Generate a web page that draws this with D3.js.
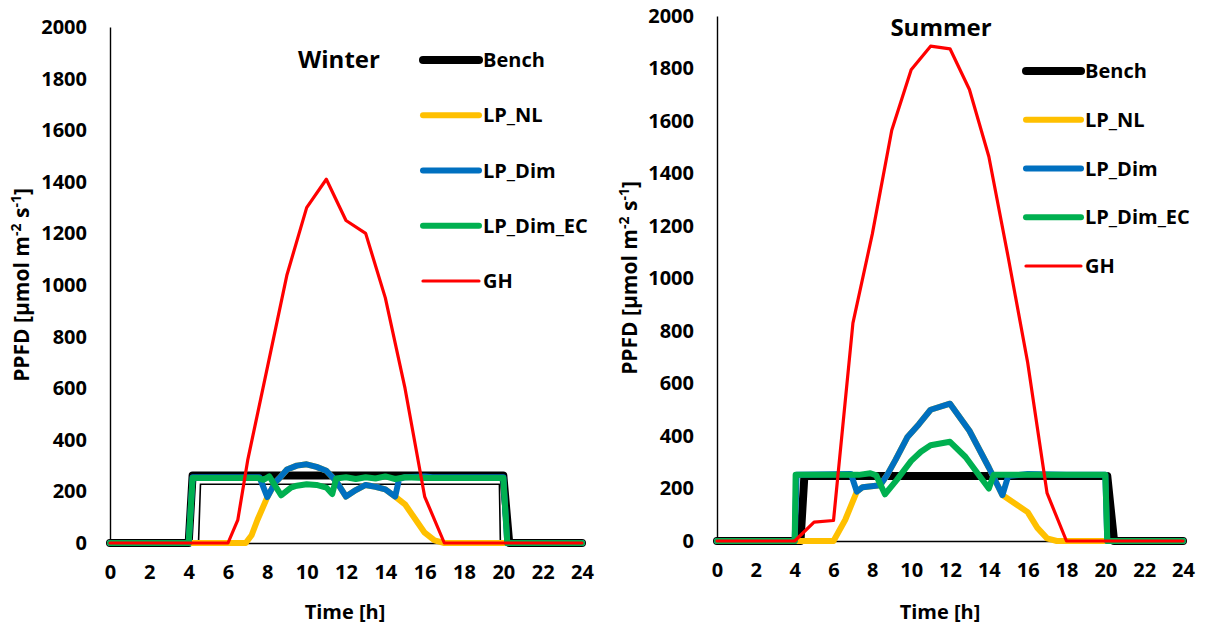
<!DOCTYPE html>
<html><head><meta charset="utf-8">
<script src="https://cdn.jsdelivr.net/npm/d3@7"></script>
<style>
body{margin:0;background:#fff}
text{font-family:"Open Sans",sans-serif;font-weight:700;fill:#000}
</style>
</head><body>
<svg id="c" width="1205" height="626"></svg>
<script>
// ---- data ----
const seriesNames = ["Bench", "LP_NL", "LP_Dim", "LP_Dim_EC", "GH"];
const seriesColors = ["#000000", "#FFC000", "#0070C0", "#00B050", "#FF0000"];
const xTicks = [0, 2, 4, 6, 8, 10, 12, 14, 16, 18, 20, 22, 24];
const yTicks = [0, 200, 400, 600, 800, 1000, 1200, 1400, 1600, 1800, 2000];

// Winter series: [hour, PPFD]
const winterBench = [[0,0],[4,0],[4.2,262],[20,262],[20.3,0],[24,0]];
const winterBenchInner = [[4.5,0],[4.6,228],[19.8,228],[19.85,0]];
const winterLPNL = [[0,0],[6.9,0],[7.2,30],[7.5,90],[8,178],[8.4,235],[8.6,250],[9,285],[9.5,300],[10,305],[10.5,295],[11,280],[11.5,240],[12,180],[12.5,205],[13,225],[13.5,218],[14,208],[14.5,180],[15,150],[15.5,95],[16,40],[16.5,10],[17,0],[24,0]];
const winterLPDim = [[0,0],[4,0],[4.2,255],[7.6,255],[8,178],[8.4,235],[8.6,250],[9,285],[9.5,300],[10,305],[10.5,295],[11,280],[11.5,240],[12,180],[12.5,205],[13,225],[13.5,218],[14,208],[14.5,180],[14.7,248],[15,255],[16,258],[16.4,255],[20,255],[20.2,0],[24,0]];
const winterLPDimEC = [[0,0],[4,0],[4.2,252],[7.5,252],[7.8,245],[8.1,258],[8.7,185],[9.2,215],[9.5,222],[10,228],[10.5,225],[11,215],[11.3,190],[11.5,250],[12,255],[12.5,248],[13,255],[13.5,250],[14,258],[14.5,248],[15,255],[16,252],[20,252],[20.2,0],[24,0]];
const winterGH = [[0,0],[6,0],[6.5,90],[7,320],[8,680],[9,1040],[10,1300],[11,1410],[12,1250],[13,1200],[14,950],[15,600],[16,180],[17,0],[24,0]];

// Summer series
const summerBench = [[0,0],[4.3,0],[4.5,248],[20.1,248],[20.45,0],[24,0]];
const summerLPNL = [[0,0],[6,0],[6.6,80],[7.2,188],[7.5,205],[8.4,212],[8.75,250],[9.2,310],[9.8,395],[10.4,445],[11,500],[12,523],[13,420],[14,280],[14.7,175],[15.4,140],[16,110],[16.5,50],[17,10],[17.5,0],[24,0]];
const summerLPDim = [[0,0],[4,0],[4.1,252],[6.9,255],[7.2,188],[7.5,205],[8.4,212],[8.75,250],[9.2,310],[9.8,395],[10.4,445],[11,500],[12,523],[13,420],[14,280],[14.7,175],[15,248],[16,255],[18,252],[20,252],[20.1,0],[24,0]];
const summerLPDimEC = [[0,0],[4,0],[4.05,252],[7.3,252],[7.9,258],[8.2,250],[8.65,178],[9.25,232],[10,305],[10.5,340],[11,365],[12,378],[12.8,320],[14,200],[14.25,252],[16,252],[20,252],[20.1,0],[24,0]];
const summerGH = [[0,0],[4,0],[5,72],[6,78],[7,830],[8,1170],[9,1565],[10,1795],[11,1885],[12,1875],[13,1720],[14,1465],[15,1080],[16,680],[17,182],[18,0],[24,0]];

const panels = [
  {title:"Winter", series:[winterBench, winterLPNL, winterLPDim, winterLPDimEC, winterGH], inner:winterBenchInner,
   xr:[110,582], yr:[543,27], tx:339, ty:60, lx0:423, lx1:479, ly0:60, ldy:55.25, ylx:22, yly:285, xlx:345},
  {title:"Summer", series:[summerBench, summerLPNL, summerLPDim, summerLPDimEC, summerGH], inner:null,
   xr:[717,1183], yr:[541,16], tx:941, ty:28, lx0:1026, lx1:1081, ly0:71, ldy:48.75, ylx:630, yly:278, xlx:940}
];
const widths = [8, 6, 6, 6, 3.2];

const svg = d3.select("#c");

panels.forEach(p => {
  const x = d3.scaleLinear().domain([0,24]).range(p.xr);
  const y = d3.scaleLinear().domain([0,2000]).range(p.yr);
  const g = svg.append("g");

  // axes
  const ya = g.append("g").attr("transform",`translate(${p.xr[0]},0)`)
    .call(d3.axisLeft(y).tickValues(yTicks).tickSize(0).tickPadding(23).tickFormat(d3.format("d")));
  ya.select(".domain").attr("stroke","#000").attr("stroke-width",1.4);
  ya.selectAll("text").attr("font-size",20).attr("font-family","'Open Sans',sans-serif");

  const xa = g.append("g").attr("transform",`translate(0,${y(0)})`)
    .call(d3.axisBottom(x).tickValues(xTicks).tickSize(0).tickPadding(22).tickFormat(d3.format("d")));
  xa.select(".domain").attr("stroke","#000").attr("stroke-width",1.4);
  xa.selectAll("text").attr("font-size",20).attr("font-family","'Open Sans',sans-serif");

  const line = d3.line().x(d=>x(d[0])).y(d=>y(d[1]));

  if (p.inner) {
    g.append("path").attr("d", line(p.inner)).attr("fill","none")
      .attr("stroke","#000").attr("stroke-width",1.6);
  }
  p.series.forEach((s,i) => {
    g.append("path").attr("d", line(s)).attr("fill","none")
      .attr("stroke", seriesColors[i]).attr("stroke-width", widths[i])
      .attr("stroke-linejoin","round").attr("stroke-linecap","round");
  });

  // title
  g.append("text").attr("x",p.tx).attr("y",p.ty).attr("dy","0.35em")
    .attr("text-anchor","middle").attr("font-size",24).text(p.title);

  // legend
  const lg = g.selectAll(".lg").data(seriesNames).enter().append("g");
  lg.append("line").attr("x1",p.lx0).attr("x2",p.lx1)
    .attr("y1",(d,i)=>p.ly0+i*p.ldy).attr("y2",(d,i)=>p.ly0+i*p.ldy)
    .attr("stroke",(d,i)=>seriesColors[i]).attr("stroke-width",(d,i)=>widths[i])
    .attr("stroke-linecap","round");
  lg.append("text").attr("x",p.lx1+4).attr("y",(d,i)=>p.ly0+i*p.ldy).attr("dy","0.35em")
    .attr("font-size",20).text(d=>d);

  // y label
  const yl = g.append("text").attr("transform",`translate(${p.ylx},${p.yly}) rotate(-90)`)
    .attr("text-anchor","middle").attr("dy","0.35em").attr("font-size",21);
  yl.append("tspan").text("PPFD [µmol m");
  yl.append("tspan").attr("dy",-8).attr("font-size",14).text("-2");
  yl.append("tspan").attr("dy",8).text(" s");
  yl.append("tspan").attr("dy",-8).attr("font-size",14).text("-1");
  yl.append("tspan").attr("dy",8).text("]");

  // x label
  g.append("text").attr("x",p.xlx).attr("y",612).attr("dy","0.35em")
    .attr("text-anchor","middle").attr("font-size",20).text("Time [h]");
});
</script>
</body></html>
